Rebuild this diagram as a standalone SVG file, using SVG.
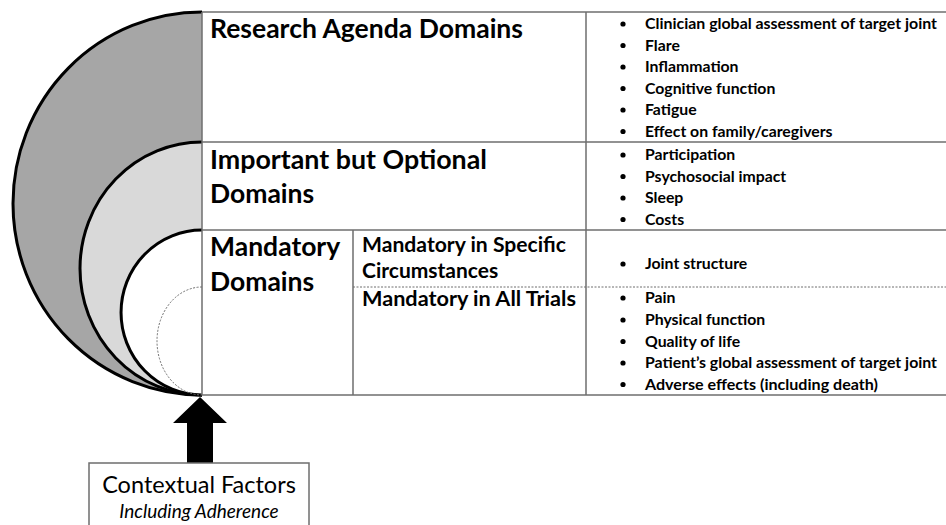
<svg xmlns="http://www.w3.org/2000/svg" width="946" height="525" viewBox="0 0 946 525">
<style>
.grid{stroke:#6e6e6e;stroke-width:1.5;fill:none}
.dot{stroke:#6e6e6e;stroke-width:1;stroke-dasharray:2 1.5;fill:none}
.arc{stroke:#000;stroke-width:3}
.h1{font-family:Lato,"Open Sans",sans-serif;font-weight:bold;font-size:26.5px;fill:#000}
.h2{font-family:Lato,"Open Sans",sans-serif;font-weight:bold;font-size:21px;fill:#000}
.b{font-family:Lato,"Open Sans",sans-serif;font-weight:bold;font-size:15.8px;fill:#000}
.bul{fill:#000}
.ctx{font-family:Lato,"Open Sans",sans-serif;font-size:23.5px;fill:#000}
.ctxi{font-family:Lato,"Open Sans",sans-serif;font-size:19px;font-style:italic;fill:#000}
</style>
<rect width="946" height="525" fill="#fff"/>
<g id="rings">
<path class="arc" d="M202,12 A189,191.5 0 0 0 202,395" fill="#a6a6a6"/>
<path class="arc" d="M202,142 A122,126.5 0 0 0 202,395" fill="#d9d9d9"/>
<path class="arc" d="M202,230 A81,82.5 0 0 0 202,395" fill="#fff"/>
<path class="dot" d="M202,287 A45,54 0 0 0 202,395"/>
</g>
<g id="table">
<line class="grid" x1="202" y1="12" x2="946" y2="12"/>
<line class="grid" x1="202" y1="142" x2="946" y2="142"/>
<line class="grid" x1="202" y1="230" x2="946" y2="230"/>
<line class="grid" x1="202" y1="395" x2="946" y2="395"/>
<line class="dot" x1="353" y1="287" x2="946" y2="287"/>
<line class="grid" x1="202" y1="12" x2="202" y2="395"/>
<line class="grid" x1="586" y1="12" x2="586" y2="395"/>
<line class="grid" x1="353" y1="230" x2="353" y2="395"/>
</g>
<g id="research">
<text class="h1" x="210" y="38" textLength="313" lengthAdjust="spacingAndGlyphs">Research Agenda Domains</text>
<g class="bul"><circle cx="623" cy="24" r="2.6"/><circle cx="623" cy="45.5" r="2.6"/><circle cx="623" cy="67" r="2.6"/><circle cx="623" cy="88.5" r="2.6"/><circle cx="623" cy="110" r="2.6"/><circle cx="623" cy="131.5" r="2.6"/></g>
<text class="b" x="645" y="29" textLength="292" lengthAdjust="spacingAndGlyphs">Clinician global assessment of target joint</text>
<text class="b" x="645" y="50.5">Flare</text>
<text class="b" x="645" y="72">Inflammation</text>
<text class="b" x="645" y="93.5">Cognitive function</text>
<text class="b" x="645" y="115">Fatigue</text>
<text class="b" x="645" y="136.5">Effect on family/caregivers</text>
</g>
<g id="optional">
<text class="h1" x="210" y="169" textLength="277" lengthAdjust="spacingAndGlyphs">Important but Optional</text>
<text class="h1" x="210" y="203">Domains</text>
<g class="bul"><circle cx="623" cy="155" r="2.6"/><circle cx="623" cy="176.5" r="2.6"/><circle cx="623" cy="198" r="2.6"/><circle cx="623" cy="219.5" r="2.6"/></g>
<text class="b" x="645" y="160">Participation</text>
<text class="b" x="645" y="181.5">Psychosocial impact</text>
<text class="b" x="645" y="203">Sleep</text>
<text class="b" x="645" y="224.5">Costs</text>
</g>
<g id="mandatory">
<text class="h1" x="210" y="256">Mandatory</text>
<text class="h1" x="210" y="291">Domains</text>
</g>
<g id="specific">
<text class="h2" x="362" y="252" textLength="204" lengthAdjust="spacingAndGlyphs">Mandatory in Specific</text>
<text class="h2" x="362" y="278">Circumstances</text>
<circle class="bul" cx="623" cy="264" r="2.6"/>
<text class="b" x="645" y="269">Joint structure</text>
</g>
<g id="alltrials">
<text class="h2" x="362" y="306" textLength="214" lengthAdjust="spacingAndGlyphs">Mandatory in All Trials</text>
<g class="bul"><circle cx="623" cy="298" r="2.6"/><circle cx="623" cy="320" r="2.6"/><circle cx="623" cy="341.5" r="2.6"/><circle cx="623" cy="363" r="2.6"/><circle cx="623" cy="384.5" r="2.6"/></g>
<text class="b" x="645" y="303">Pain</text>
<text class="b" x="645" y="325">Physical function</text>
<text class="b" x="645" y="346.5">Quality of life</text>
<text class="b" x="645" y="368" textLength="292" lengthAdjust="spacingAndGlyphs">Patient’s global assessment of target joint</text>
<text class="b" x="645" y="389.5" textLength="233" lengthAdjust="spacingAndGlyphs">Adverse effects (including death)</text>
</g>
<g id="connectors">
<polygon points="200,397 227,423 213,423 213,463 187,463 187,423 173,423" fill="#000"/>
</g>
<g id="context">
<rect x="89" y="463" width="220" height="70" fill="#fff" stroke="#6e6e6e" stroke-width="1.5"/>
<text class="ctx" x="199" y="493" text-anchor="middle">Contextual Factors</text>
<text class="ctxi" x="199" y="518" text-anchor="middle">Including Adherence</text>
</g>
</svg>
